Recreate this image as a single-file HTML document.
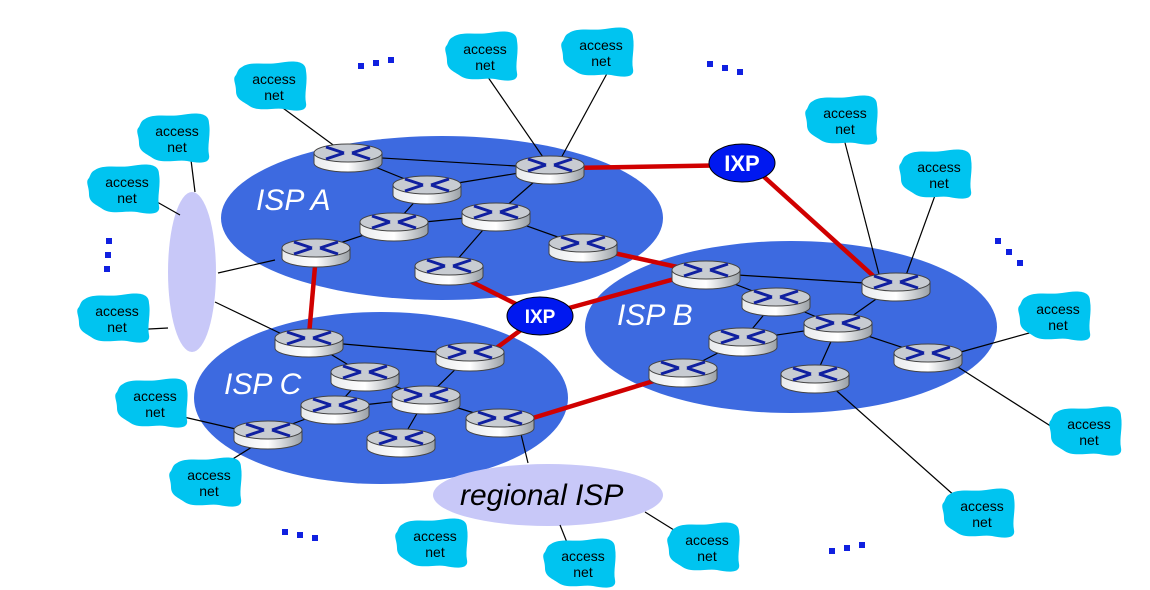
<!DOCTYPE html>
<html><head><meta charset="utf-8"><style>
html,body{margin:0;padding:0;background:#fff}
svg{display:block}
text{font-family:"Liberation Sans",sans-serif}
.an{font-size:14px;fill:#000;text-anchor:middle}
.isp{font-size:30px;font-style:italic;fill:#fff}
</style></head><body>
<svg width="1150" height="590" viewBox="0 0 1150 590" xmlns="http://www.w3.org/2000/svg">
<defs>
<linearGradient id="body" x1="0" x2="1" y1="0" y2="0">
<stop offset="0" stop-color="#e8eaec"/><stop offset="0.5" stop-color="#ffffff"/><stop offset="1" stop-color="#9aa0a6"/>
</linearGradient>
<symbol id="r" overflow="visible">
<path d="M-34,0 v10 a34,9 0 0 0 68,0 v-10 z" fill="url(#body)" stroke="#444" stroke-width="1"/>
<ellipse cx="0" cy="0" rx="34" ry="9" fill="#c8ccd2" stroke="#444" stroke-width="1"/>
<g stroke="#1020a0" stroke-width="3" fill="none">
<path d="M-22,-6 L-4,0 M-22,6 L-4,0 M22,-6 L4,0 M22,6 L4,0"/>
</g>
</symbol>
<symbol id="c" overflow="visible">
<path d="M-30,-20 C-22,-26 -6,-22 6,-24 C18,-26 34,-28 34,-16 C36,-4 32,6 34,16 C36,26 22,24 12,22 C2,20 -14,26 -24,18 C-30,14 -36,12 -36,4 C-36,-4 -40,-8 -36,-12 C-34,-16 -34,-18 -30,-20 Z" fill="#00c4f0"/>
</symbol>
</defs>

<ellipse cx="442" cy="218" rx="221" ry="82" fill="#3d6ae0"/>
<ellipse cx="791" cy="327" rx="206" ry="86" fill="#3d6ae0"/>
<ellipse cx="381" cy="398" rx="187" ry="86" fill="#3d6ae0"/>
<ellipse cx="548" cy="495" rx="115" ry="31" fill="#c8c8f8"/>
<ellipse cx="192" cy="272" rx="24" ry="80" fill="#c8c8f8"/>

<text class="isp" x="256" y="210">ISP A</text>
<text class="isp" x="617" y="325">ISP B</text>
<text class="isp" x="224" y="394">ISP C</text>
<text x="460" y="505" style="font-size:30px;font-style:italic;fill:#000">regional ISP</text>

<g stroke="#000" stroke-width="1.2">
<line x1="272" y1="100" x2="340" y2="150"/>
<line x1="483" y1="70" x2="545" y2="160"/>
<line x1="610" y1="68" x2="560" y2="160"/>
<line x1="843" y1="135" x2="880" y2="278"/>
<line x1="937" y1="190" x2="905" y2="278"/>
<line x1="190" y1="152" x2="195" y2="192"/>
<line x1="150" y1="198" x2="180" y2="215"/>
<line x1="130" y1="330" x2="168" y2="328"/>
<line x1="218" y1="273" x2="275" y2="260"/>
<line x1="215" y1="302" x2="290" y2="338"/>
<line x1="175" y1="415" x2="240" y2="430"/>
<line x1="207" y1="475" x2="260" y2="442"/>
<line x1="1040" y1="330" x2="950" y2="355"/>
<line x1="1060" y1="432" x2="950" y2="362"/>
<line x1="965" y1="505" x2="830" y2="385"/>
<line x1="460" y1="522" x2="420" y2="540"/>
<line x1="560" y1="525" x2="570" y2="550"/>
<line x1="645" y1="512" x2="690" y2="540"/>
<line x1="520" y1="430" x2="528" y2="463"/>
<line x1="348" y1="156" x2="550" y2="168"/>
<line x1="348" y1="156" x2="427" y2="188"/>
<line x1="427" y1="188" x2="550" y2="168"/>
<line x1="550" y1="168" x2="496" y2="215"/>
<line x1="427" y1="188" x2="394" y2="225"/>
<line x1="394" y1="225" x2="496" y2="215"/>
<line x1="394" y1="225" x2="316" y2="251"/>
<line x1="496" y1="215" x2="583" y2="246"/>
<line x1="496" y1="215" x2="449" y2="269"/>
<line x1="706" y1="273" x2="896" y2="285"/>
<line x1="706" y1="273" x2="776" y2="300"/>
<line x1="776" y1="300" x2="838" y2="326"/>
<line x1="896" y1="285" x2="838" y2="326"/>
<line x1="776" y1="300" x2="743" y2="340"/>
<line x1="838" y1="326" x2="743" y2="340"/>
<line x1="838" y1="326" x2="928" y2="356"/>
<line x1="838" y1="326" x2="815" y2="377"/>
<line x1="743" y1="340" x2="683" y2="371"/>
<line x1="309" y1="341" x2="470" y2="355"/>
<line x1="309" y1="341" x2="365" y2="375"/>
<line x1="365" y1="375" x2="426" y2="398"/>
<line x1="470" y1="355" x2="426" y2="398"/>
<line x1="365" y1="375" x2="335" y2="408"/>
<line x1="426" y1="398" x2="335" y2="408"/>
<line x1="426" y1="398" x2="500" y2="421"/>
<line x1="426" y1="398" x2="401" y2="441"/>
<line x1="335" y1="408" x2="268" y2="433"/>
</g>

<g stroke="#d00000" stroke-width="4.5">
<line x1="570" y1="168" x2="742" y2="165"/>
<line x1="762" y1="175" x2="880" y2="282"/>
<line x1="316" y1="255" x2="309" y2="335"/>
<line x1="460" y1="276" x2="540" y2="316"/>
<line x1="600" y1="250" x2="700" y2="272"/>
<line x1="540" y1="316" x2="700" y2="272"/>
<line x1="540" y1="316" x2="480" y2="360"/>
<line x1="510" y1="425" x2="683" y2="372"/>
</g>

<ellipse cx="742" cy="163" rx="33" ry="19" fill="#0018f0" stroke="#000" stroke-width="1"/>
<text x="742" y="171" style="font-size:22px;font-weight:bold;fill:#fff;text-anchor:middle">IXP</text>
<ellipse cx="540" cy="316" rx="33" ry="19" fill="#0018f0" stroke="#000" stroke-width="1"/>
<text x="540" y="323" style="font-size:19px;font-weight:bold;fill:#fff;text-anchor:middle">IXP</text>

<use href="#r" x="348" y="153"/><use href="#r" x="550" y="165"/><use href="#r" x="427" y="185"/>
<use href="#r" x="496" y="212"/><use href="#r" x="394" y="222"/><use href="#r" x="316" y="248"/>
<use href="#r" x="583" y="243"/><use href="#r" x="449" y="266"/>
<use href="#r" x="706" y="270"/><use href="#r" x="896" y="282"/><use href="#r" x="776" y="297"/>
<use href="#r" x="838" y="323"/><use href="#r" x="743" y="337"/><use href="#r" x="928" y="353"/>
<use href="#r" x="683" y="368"/><use href="#r" x="815" y="374"/>
<use href="#r" x="309" y="338"/><use href="#r" x="470" y="352"/><use href="#r" x="365" y="372"/>
<use href="#r" x="426" y="395"/><use href="#r" x="335" y="405"/><use href="#r" x="500" y="418"/>
<use href="#r" x="268" y="430"/><use href="#r" x="401" y="438"/>

<g>
<use href="#c" x="272" y="87"/><text class="an" x="274" y="84">access</text><text class="an" x="274" y="100">net</text>
<use href="#c" x="175" y="139"/><text class="an" x="177" y="136">access</text><text class="an" x="177" y="152">net</text>
<use href="#c" x="125" y="190"/><text class="an" x="127" y="187">access</text><text class="an" x="127" y="203">net</text>
<use href="#c" x="483" y="57"/><text class="an" x="485" y="54">access</text><text class="an" x="485" y="70">net</text>
<use href="#c" x="599" y="53"/><text class="an" x="601" y="50">access</text><text class="an" x="601" y="66">net</text>
<use href="#c" x="843" y="121"/><text class="an" x="845" y="118">access</text><text class="an" x="845" y="134">net</text>
<use href="#c" x="937" y="175"/><text class="an" x="939" y="172">access</text><text class="an" x="939" y="188">net</text>
<use href="#c" x="115" y="319"/><text class="an" x="117" y="316">access</text><text class="an" x="117" y="332">net</text>
<use href="#c" x="1056" y="317"/><text class="an" x="1058" y="314">access</text><text class="an" x="1058" y="330">net</text>
<use href="#c" x="153" y="404"/><text class="an" x="155" y="401">access</text><text class="an" x="155" y="417">net</text>
<use href="#c" x="207" y="483"/><text class="an" x="209" y="480">access</text><text class="an" x="209" y="496">net</text>
<use href="#c" x="1087" y="432"/><text class="an" x="1089" y="429">access</text><text class="an" x="1089" y="445">net</text>
<use href="#c" x="980" y="514"/><text class="an" x="982" y="511">access</text><text class="an" x="982" y="527">net</text>
<use href="#c" x="433" y="544"/><text class="an" x="435" y="541">access</text><text class="an" x="435" y="557">net</text>
<use href="#c" x="581" y="564"/><text class="an" x="583" y="561">access</text><text class="an" x="583" y="577">net</text>
<use href="#c" x="705" y="548"/><text class="an" x="707" y="545">access</text><text class="an" x="707" y="561">net</text>
</g>

<g fill="#1020e0">
<rect x="358" y="63" width="6" height="6"/><rect x="373" y="60" width="6" height="6"/><rect x="388" y="57" width="6" height="6"/>
<rect x="707" y="61" width="6" height="6"/><rect x="722" y="65" width="6" height="6"/><rect x="737" y="69" width="6" height="6"/>
<rect x="106" y="238" width="6" height="6"/><rect x="105" y="252" width="6" height="6"/><rect x="104" y="266" width="6" height="6"/>
<rect x="995" y="238" width="6" height="6"/><rect x="1006" y="249" width="6" height="6"/><rect x="1017" y="260" width="6" height="6"/>
<rect x="282" y="529" width="6" height="6"/><rect x="297" y="532" width="6" height="6"/><rect x="312" y="535" width="6" height="6"/>
<rect x="829" y="548" width="6" height="6"/><rect x="844" y="545" width="6" height="6"/><rect x="859" y="542" width="6" height="6"/>
</g>
</svg>
</body></html>
